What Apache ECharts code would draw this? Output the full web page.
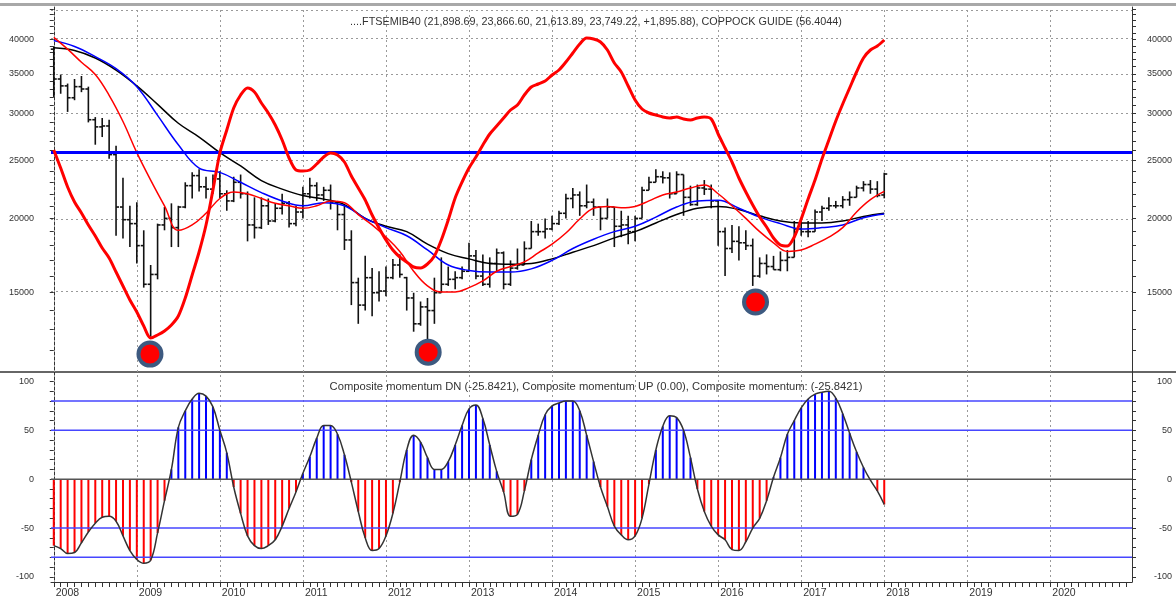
<!DOCTYPE html>
<html>
<head>
<meta charset="utf-8">
<title>FTSEMIB40 - Coppock guide</title>
<script src="https://cdn.jsdelivr.net/npm/echarts@6/dist/echarts.min.js"></script>
<style>
  html, body { margin: 0; padding: 0; background: #fff; }
  #chart { width: 1176px; height: 599px; }
</style>
</head>
<body>
<div id="chart"></div>
<script>
// monthly bars, index 0 = Jan 2008 ... 120 = Jan 2018
var priceOpen = [
  38500, 34300, 33400, 31900, 33300, 33000, 29300, 28500, 28600, 25600, 20900, 19900,
  19600, 18000, 15500, 16100, 19500, 20000, 19300, 20900, 22700, 23600, 22600, 22400,
  23300, 22000, 21400, 23000, 22000, 19500, 19300, 21000, 19800, 20800, 21200, 19600,
  20500, 22000, 22700, 21900, 22300, 21300, 20300, 18400, 15600, 14300, 15900, 15000,
  15100, 15900, 16700, 15900, 14700, 13300, 14200, 14000, 15000, 15500, 15800, 15900,
  16300, 17300, 16000, 15500, 16800, 17500, 15500, 16500, 16700, 17800, 19000, 19000,
  19200, 19600, 20400, 21600, 21900, 21000, 21300, 20900, 20000, 20900, 19400, 19500,
  19000, 20000, 22300, 23000, 23500, 23400, 22000, 23700, 21700, 21100, 22500, 22400,
  21400, 19000, 17800, 18300, 18200, 18000, 16000, 16800, 16600, 16400, 17000, 17200,
  19200, 19000, 19000, 20500, 20800, 21000, 21000, 21500, 21700, 22500, 22800, 22400,
  21898.69
];
var priceHigh = [
  38900, 34900, 33700, 34300, 34700, 33300, 29600, 29500, 29300, 26500, 23400, 21000,
  21300, 19100, 16700, 19600, 20900, 21200, 21000, 23000, 23900, 24200, 23500, 23700,
  24000, 22300, 23500, 23700, 22200, 21700, 21700, 21600, 21200, 22000, 21400, 21000,
  22600, 23400, 23000, 22600, 22800, 21400, 21000, 19100, 15900, 17300, 16500, 16300,
  16600, 17100, 17400, 15950, 15000, 14500, 14700, 15900, 17200, 16600, 16300, 16600,
  18200, 17700, 17400, 17200, 17800, 17600, 17000, 17800, 18300, 19800, 19600, 20000,
  20200, 20600, 22000, 22500, 22200, 22800, 21600, 20900, 21600, 20900, 20600, 20200,
  20200, 22600, 23500, 24200, 24000, 23900, 24000, 23700, 22700, 22800, 23200, 22800,
  21400, 19300, 19500, 19400, 19100, 18500, 17200, 17400, 17300, 17600, 17700, 19800,
  20000, 19800, 20700, 21000, 21700, 21400, 21800, 22200, 22700, 23100, 23200, 23100,
  23866.60
];
var priceLow = [
  32000, 32400, 30200, 31600, 32600, 29000, 26600, 27400, 25200, 18700, 18500, 17900,
  16800, 15300, 12650, 15800, 19100, 17900, 17900, 20800, 21600, 22200, 21600, 22000,
  21600, 20600, 21300, 21600, 18300, 18500, 19200, 19500, 19700, 20300, 19300, 19400,
  20000, 21600, 21400, 21400, 20700, 19100, 17700, 14300, 13300, 14000, 13700, 14500,
  14800, 15800, 15900, 14000, 12900, 13200, 12300, 13300, 15000, 15400, 15200, 15800,
  16300, 15800, 15400, 15300, 16300, 15200, 15400, 16400, 16700, 17800, 18700, 18500,
  19100, 19500, 20000, 20800, 20200, 20800, 20200, 19100, 20000, 17900, 18600, 18100,
  18300, 20000, 22300, 23000, 22900, 21600, 22000, 20200, 21000, 21000, 21900, 20800,
  18000, 16000, 17500, 17000, 17700, 15400, 15900, 16100, 16400, 16300, 16300, 17200,
  18700, 18600, 19000, 19800, 20600, 20800, 20800, 21000, 21700, 22200, 22000, 21700,
  21613.89
];
var priceClose = [
  34300, 33400, 31900, 33300, 33000, 29300, 28500, 28600, 25600, 20900, 19900, 19600,
  18000, 15500, 16100, 19500, 20000, 19300, 20900, 22700, 23600, 22600, 22400, 23300,
  22000, 21400, 23000, 22000, 19500, 19300, 21000, 19800, 20800, 21200, 19600, 20500,
  22000, 22700, 21900, 22300, 21300, 20300, 18400, 15600, 14300, 15900, 15000, 15100,
  15900, 16700, 16100, 14700, 13300, 14200, 14000, 15000, 15500, 15800, 15900, 16300,
  17300, 16000, 15500, 16800, 17500, 15500, 16500, 16700, 17800, 19000, 19000, 19200,
  19600, 20400, 21600, 21900, 21000, 21300, 20900, 20000, 20900, 19400, 19500, 19000,
  20000, 22300, 23000, 23500, 23400, 22000, 23700, 21700, 21100, 22500, 22400, 21400,
  19000, 17800, 18300, 18200, 18000, 16000, 16800, 16600, 16400, 17000, 17200, 19200,
  19000, 19000, 20500, 20800, 21000, 21000, 21500, 21700, 22500, 22800, 22400, 21853.34,
  23749.22
];

// moving averages (read every 3 months, fast one every 2 months)
var maMonths = [0, 3, 6, 9, 12, 15, 18, 21, 24, 27, 30, 33, 36, 39, 42, 45, 48, 51, 54, 57, 60,
  63, 66, 69, 72, 75, 78, 81, 84, 87, 90, 93, 96, 99, 102, 105, 108, 111, 114, 117, 120];
var maBlack = [38700, 38300, 37200, 35500, 33400, 31100, 28900, 27400, 25800, 24500, 23150,
  22400, 21850, 21550, 21100, 20000, 19400, 19000, 18100, 17450, 17100, 16800, 16750, 16800,
  17100, 17550, 18000, 18550, 19000, 19650, 20300, 20800, 20950, 20700, 20200, 19800, 19650,
  19650, 19800, 20150, 20400];
var maBlue = [39800, 38900, 37400, 35700, 33300, 29800, 26600, 24300, 23900, 23000, 22100,
  21400, 21000, 21250, 21000, 20000, 19300, 18700, 17700, 16700, 16350, 16250, 16250, 16450,
  17000, 17800, 18450, 19000, 19400, 20100, 20900, 21400, 21450, 20800, 20100, 19600, 19200,
  19300, 19500, 20050, 20350];
var redMonths = [0, 2, 4, 6, 8, 10, 12, 14, 16, 18, 20, 22, 24, 26, 28, 30, 32, 34, 36, 38, 40,
  42, 44, 46, 48, 50, 52, 54, 56, 58, 60, 62, 64, 66, 68, 70, 72, 74, 76, 78, 80, 82, 84, 86,
  88, 90, 92, 94, 96, 98, 100, 102, 104, 106, 108, 110, 112, 114, 116, 118, 120];
var maRed = [40300, 38500, 36600, 34900, 32200, 29100, 25800, 23200, 21000, 19100, 19500,
  20400, 21600, 22150, 22000, 21600, 21200, 21000, 20800, 21000, 21400, 21250, 20300, 19500,
  18600, 17600, 16300, 15400, 15050, 15050, 15300, 15700, 16300, 16600, 16900, 17500, 18100,
  18900, 19950, 20800, 20950, 20850, 20950, 21400, 21900, 22150, 22500, 22750, 22000, 21000,
  20000, 19000, 18200, 17600, 17700, 18100, 18600, 19300, 20500, 21500, 22200];

// coppock guide, monthly
var coppock = [
  1.4, -7.6, -17.1, -24.6, -30.1, -36.1, -41.6, -47.6, -52.6, -59.6,
  -66.6, -73.6, -79.6, -86.6, -92.6, -91.1, -89.1, -86.1, -81.6, -72.6,
  -61.1, -49.6, -36.1, -18.6, -0.1, 11.4, 22.4, 28.9, 32.4, 30.4,
  24.9, 19.9, 13.9, 6.4, -2.6, -8.6, -9.1, -8.6, -5.6, -2.1,
  -0.1, -1.1, -4.6, -11.6, -17.6, -23.6, -31.1, -37.6, -43.6, -48.6,
  -52.1, -54.6, -57.1, -57.6, -55.6, -51.6, -43.6, -33.6, -22.6, -14.6,
  -7.6, -2.1, 3.9, 9.4, 13.4, 17.4, 21.4, 23.9, 28.9, 32.9,
  34.4, 35.9, 38.9, 41.4, 45.4, 49.9, 54.4, 57.4, 56.9, 55.4,
  51.4, 44.9, 40.4, 33.4, 26.4, 21.9, 19.9, 18.9, 17.9, 17.4,
  17.9, 16.9, 16.4, 17.4, 17.9, 16.9, 9.4, 2.4, -4.6, -12.6,
  -19.6, -26.1, -32.1, -37.1, -42.6, -46.1, -46.6, -42.1, -33.1, -23.1,
  -13.6, -3.1, 6.4, 15.9, 24.4, 32.4, 40.4, 47.4, 51.4, 53.4,
  56.4
];

// composite momentum, monthly
var momentum = [
  -68, -71, -76, -75, -65, -54, -45, -39, -38, -43,
  -58, -73, -82, -86, -83, -55, -22, 10, 53, 70,
  82, 88, 85, 74, 50, 27, -8, -35, -58, -68,
  -71, -68, -62, -48, -30, -13, 6, 23, 42, 55,
  55, 46, 25, -3, -33, -60, -73, -71, -58, -35,
  -3, 30, 45, 38, 22, 10, 10, 18, 35, 55,
  72, 76, 62, 35, 8, -13, -38, -36, -12, 20,
  45, 66, 75, 78, 80, 80, 70, 45, 18, -8,
  -28, -48, -57, -62, -58, -40, -5, 30, 54, 65,
  63, 50, 22, -10, -33, -48, -57, -62, -72, -73,
  -64, -50, -40, -22, 2, 22, 46, 60, 73, 82,
  87, 89, 90, 83, 67, 47, 28, 12, -1, -12,
  -25.84
];

var yearLabels = ['2008', '2009', '2010', '2011', '2012', '2013', '2014',
  '2015', '2016', '2017', '2018', '2019', '2020'];
var priceTicks = [15000, 20000, 25000, 30000, 35000, 40000];
var priceGrid = [15000, 20000, 25000, 30000, 35000, 40000, 45000];
var momentumTicks = [-100, -50, 0, 50, 100];
var momentumLevels = [80, 50, -50, -80];
var guideLevel = 25800;
var lowMarks = [[13.9, 11830], [54.1, 11920], [101.4, 14470]];

var font = 'Liberation Sans, Arial, sans-serif';
var ln = Math.log;

var ohlc = priceClose.map(function (c, i) {
  return [i, ln(priceOpen[i]), ln(priceHigh[i]), ln(priceLow[i]), ln(c)];
});
function pairs(xs, ys, f) {
  return ys.map(function (v, i) { return [xs[i], f ? f(v) : v]; });
}
var months = priceClose.map(function (c, i) { return i; });

var yearPos = yearLabels.map(function (y, i) { return i * 12; });
var monthTicks = [];
for (var m = 0; m <= 155; m++) monthTicks.push(m);
var priceMinor = [];
for (var p = 12000; p <= 45000; p += 1000) priceMinor.push(ln(p));
var momMinor = [];
for (var q = -100; q <= 100; q += 10) momMinor.push(q);

var dotted = { color: '#9a9a9a', width: 1, type: [2, 3] };
var axisText = { color: '#333', fontSize: 9, fontFamily: font };

function priceAxis(pos) {
  return {
    type: 'value', gridIndex: 0, position: pos,
    min: 9.30906, max: 10.7216,
    axisLine: { show: true, lineStyle: { color: '#333' } },
    axisTick: { show: true, length: 4, customValues: priceMinor, lineStyle: { color: '#333' } },
    axisLabel: Object.assign({
      customValues: priceTicks.map(ln),
      formatter: function (v) { return Math.round(Math.exp(v)); },
      margin: pos === 'left' ? 17 : 40,
      align: 'right'
    }, axisText),
    splitLine: { show: false }
  };
}
function momAxis(pos) {
  return {
    type: 'value', gridIndex: 1, position: pos,
    min: -105.2, max: 109.7,
    axisLine: { show: true, lineStyle: { color: '#333' } },
    axisTick: { show: true, length: 4, customValues: momMinor, lineStyle: { color: '#333' } },
    axisLabel: Object.assign({
      customValues: momentumTicks,
      margin: pos === 'left' ? 17 : 40,
      align: 'right'
    }, axisText),
    splitLine: { show: false }
  };
}

// one horizontal reference line per level, drawn through the momentum axes
var levelSeries = momentumLevels.map(function (v) {
  return {
    name: 'level ' + v, type: 'line', xAxisIndex: 1, yAxisIndex: 3, z: 6,
    data: [[-0.4, v], [155.8, v]], symbol: 'none', silent: true,
    lineStyle: { color: '#4646ff', width: 1.5 }
  };
});

var chart = echarts.init(document.getElementById('chart'));
chart.setOption({
  animation: false,
  backgroundColor: '#fff',
  title: [{
    text: '....FTSEMIB40 (21,898.69, 23,866.60, 21,613.89, 23,749.22, +1,895.88), COPPOCK GUIDE (56.4044)',
    left: 591, top: 12, textAlign: 'center',
    textStyle: { fontSize: 10.8, fontWeight: 'normal', color: '#333', fontFamily: font }
  }, {
    text: 'Composite momentum DN (-25.8421), Composite momentum UP (0.00), Composite momentum: (-25.8421)',
    left: 591, top: 376, textAlign: 'center',
    textStyle: { fontSize: 11.2, fontWeight: 'normal', color: '#333', fontFamily: font }
  }],
  grid: [
    { left: 51, right: 44, top: 7, height: 365 },
    { left: 51, right: 44, top: 372, height: 210 }
  ],
  xAxis: [{
    type: 'value', gridIndex: 0, min: -0.4, max: 155.8,
    axisLine: { show: false }, axisTick: { show: false }, axisLabel: { show: false },
    splitLine: { show: false }
  }, {
    type: 'value', gridIndex: 1, min: -0.4, max: 155.8,
    axisLine: { show: true, onZero: false, lineStyle: { color: '#333' } },
    axisTick: { show: true, length: 5, customValues: monthTicks, lineStyle: { color: '#333' } },
    axisLabel: Object.assign({
      customValues: yearPos,
      formatter: function (v) { return yearLabels[Math.round(v / 12)]; },
      align: 'left', margin: 6, padding: [0, 0, 0, 2]
    }, axisText, { fontSize: 10.5 }),
    splitLine: { show: false }
  }],
  yAxis: [
    priceAxis('left'),
    priceAxis('right'),
    { type: 'value', gridIndex: 0, min: -109.6, max: 72.9, show: false, splitLine: { show: false } },
    momAxis('left'),
    momAxis('right')
  ],
  graphic: [
    { type: 'rect', shape: { x: 0, y: 3, width: 1176, height: 3 }, style: { fill: '#a8a8a8' } },
    { type: 'line', shape: { x1: 0, y1: 372, x2: 1176, y2: 372 }, style: { stroke: '#333', lineWidth: 1.5 } }
  ],
  series: [
    {
      name: 'FTSEMIB40', type: 'custom', xAxisIndex: 0, yAxisIndex: 0,
      data: ohlc, encode: { x: 0, y: [1, 2, 3, 4] }, z: 3,
      renderItem: function (params, api) {
        var x = api.value(0);
        var o = api.coord([x, api.value(1)]);
        var h = api.coord([x, api.value(2)]);
        var l = api.coord([x, api.value(3)]);
        var c = api.coord([x, api.value(4)]);
        var st = { stroke: '#111', lineWidth: 1.6 };
        return {
          type: 'group',
          children: [
            { type: 'line', shape: { x1: h[0], y1: h[1], x2: l[0], y2: l[1] }, style: st },
            { type: 'line', shape: { x1: o[0] - 3, y1: o[1], x2: o[0], y2: o[1] }, style: st },
            { type: 'line', shape: { x1: c[0], y1: c[1], x2: c[0] + 3, y2: c[1] }, style: st }
          ]
        };
      },
      markLine: {
        silent: true, symbol: 'none', label: { show: false }, z: 1,
        lineStyle: dotted,
        data: yearPos.map(function (v) { return { xAxis: v }; })
          .concat(priceGrid.map(function (v) { return { yAxis: ln(v) }; }))
      }
    },
    {
      name: 'slow', type: 'line', xAxisIndex: 0, yAxisIndex: 0, z: 4,
      data: pairs(maMonths, maBlack, ln), smooth: 0.4, symbol: 'none',
      lineStyle: { color: '#000', width: 1.5 }
    },
    {
      name: 'mid', type: 'line', xAxisIndex: 0, yAxisIndex: 0, z: 4,
      data: pairs(maMonths, maBlue, ln), smooth: 0.4, symbol: 'none',
      lineStyle: { color: '#0000ff', width: 1.5 },
      markLine: {
        silent: true, symbol: 'none', label: { show: false },
        lineStyle: { color: '#0000ff', width: 3, type: 'solid' },
        data: [{ yAxis: ln(guideLevel) }]
      }
    },
    {
      name: 'fast', type: 'line', xAxisIndex: 0, yAxisIndex: 0, z: 4,
      data: pairs(redMonths, maRed, ln), smooth: 0.4, symbol: 'none',
      lineStyle: { color: '#ff0000', width: 1.5 }
    },
    {
      name: 'COPPOCK GUIDE', type: 'line', xAxisIndex: 0, yAxisIndex: 2, z: 5,
      data: pairs(months, coppock), smooth: 0.3, symbol: 'none',
      lineStyle: { color: '#ff0000', width: 3 }
    },
    {
      name: 'lows', type: 'scatter', xAxisIndex: 0, yAxisIndex: 0, z: 6,
      data: lowMarks.map(function (d) { return [d[0], ln(d[1])]; }),
      symbolSize: 23,
      itemStyle: { color: '#ff0000', borderColor: '#3d5a80', borderWidth: 4, opacity: 1 }
    },
    {
      name: 'Composite momentum', type: 'bar', xAxisIndex: 1, yAxisIndex: 3,
      data: pairs(months, momentum), barWidth: 2, z: 3,
      itemStyle: {
        color: function (p) { return p.value[1] >= 0 ? '#0000ff' : '#ff0000'; }
      },
      markLine: {
        silent: true, symbol: 'none', label: { show: false }, z: 1,
        lineStyle: dotted,
        data: yearPos.map(function (v) { return { xAxis: v }; })
      }
    },
    {
      name: 'Composite momentum line', type: 'line', xAxisIndex: 1, yAxisIndex: 3, z: 7,
      data: pairs(months, momentum), smooth: 0.4, symbol: 'none',
      lineStyle: { color: '#333', width: 1.5 }
    },
    {
      name: 'zero', type: 'line', xAxisIndex: 1, yAxisIndex: 3, z: 5,
      data: [[-0.4, 0], [155.8, 0]], symbol: 'none', silent: true,
      lineStyle: { color: '#555', width: 1.5 }
    }
  ].concat(levelSeries)
});
</script>
</body>
</html>
